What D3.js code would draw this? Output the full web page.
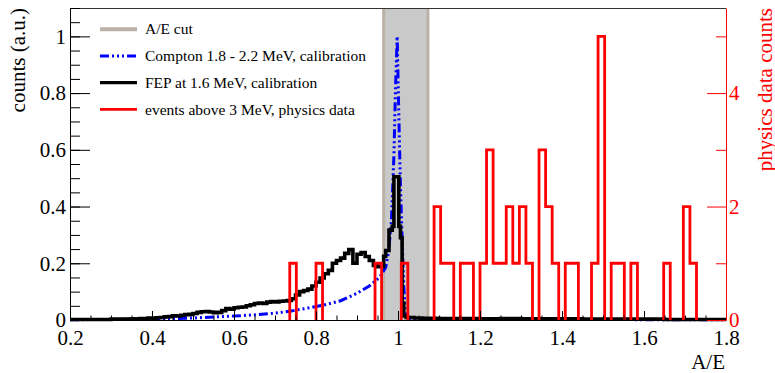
<!DOCTYPE html>
<html>
<head>
<meta charset="utf-8">
<script src="https://cdn.jsdelivr.net/npm/d3@7"></script>
<style>
body { margin: 0; background: #fff; }
svg { display: block; }
svg text { font-family: "Liberation Serif", "Times New Roman", serif !important; }
</style>
</head>
<body>
<svg id="chart" width="775" height="373"></svg>
<script>
// A/E cut window
var cutRange = [0.965, 1.073];

// physics data histogram: bins of 0.016, first listed bin index 46 (A/E = 0.736)
var physBinWidth = 0.016;
var physFirstBin = 46;
var physCounts = [1,0,0,0,1,0,0,0,0,0,0,0,0,1,0,0,0,1,0,0,0,0,
                  2,1,1,0,1,1,0,1,3,1,1,2,1,2,1,0,3,2,1,0,1,1,0,0,
                  1,5,0,1,1,0,1,0,0,0,0,1,0,0,2,1];

// FEP at 1.6 MeV: bin left edges and contents (last edge closes the histogram)
var fepEdges = [0.20,0.25,0.30,0.35,0.36,0.37,0.38,0.39,0.40,0.41,0.42,0.43,0.44,0.45,0.46,0.47,0.48,0.49,
                0.50,0.51,0.52,0.53,0.54,0.55,0.56,0.57,0.58,0.59,0.60,0.61,0.62,0.63,0.64,0.65,0.66,0.67,
                0.68,0.69,0.70,0.71,0.72,0.73,0.74,0.75,0.76,0.77,0.78,0.79,0.80,0.81,0.82,0.83,0.84,0.85,
                0.86,0.87,0.88,0.89,0.90,0.91,0.92,0.93,0.94,0.95,0.965,0.970,0.978,0.986,0.990,1.002,1.006,
                1.010,1.014,1.02,1.04,1.06,1.08,1.10,1.15,1.20,1.25,1.30,1.35,1.40,1.45,1.50,1.55,1.60,1.65,
                1.70,1.75,1.80];
var fepValues = [0.002,0.002,0.003,0.004,0.003,0.005,0.005,0.007,0.006,0.008,0.009,0.011,0.012,0.015,0.014,0.017,0.019,0.020,
                 0.023,0.027,0.029,0.030,0.028,0.026,0.027,0.033,0.040,0.038,0.043,0.045,0.046,0.050,0.054,0.058,0.060,0.058,
                 0.063,0.065,0.064,0.066,0.067,0.069,0.075,0.088,0.100,0.104,0.109,0.120,0.133,0.148,0.163,0.175,0.200,0.210,
                 0.218,0.235,0.248,0.200,0.232,0.238,0.224,0.210,0.192,0.188,0.225,0.245,0.317,0.330,0.505,0.330,0.290,
                 0.060,0.014,0.009,0.007,0.006,0.006,0.005,0.005,0.004,0.005,0.004,0.004,0.004,0.003,0.003,0.003,0.003,0.002,
                 0.002,0.002];

// Compton continuum 1.8 - 2.2 MeV
var comptonX = [0.20,0.30,0.40,0.45,0.50,0.54,0.60,0.66,0.70,0.74,0.78,0.82,0.86,0.90,0.93,0.955,0.970,0.977,
                0.984,0.990,0.994,0.998,1.002,1.006,1.010,1.014,1.018,1.030,1.100,1.800];
var comptonY = [0.001,0.002,0.003,0.005,0.007,0.010,0.014,0.019,0.024,0.032,0.042,0.053,0.068,0.094,0.120,0.150,0.185,0.240,
                0.350,0.580,0.820,1.000,0.720,0.470,0.290,0.120,0.025,0.004,0.002,0.001];

var legendLabels = ["A/E cut", "Compton 1.8 - 2.2 MeV, calibration",
                    "FEP at 1.6 MeV, calibration", "events above 3 MeV, physics data"];

var xTicks = [0.2,0.4,0.6,0.8,1,1.2,1.4,1.6,1.8];
var yLeftTicks = [0,0.2,0.4,0.6,0.8,1];
var yRightTicks = [0,2,4];

var margin = {left: 70, right: 726, top: 8, bottom: 320};
var cutFill = "#c9c9c9", cutEdge = "#bbb2a7";
var blueDash = "9,3,2,3,2,3,2,3";

var svg = d3.select("#chart");

var x = d3.scaleLinear().domain([0.2, 1.8]).range([margin.left, margin.right]);
var yL = d3.scaleLinear().domain([0, 1.1]).range([margin.bottom, margin.top]);
var yR = d3.scaleLinear().domain([0, 5.5]).range([margin.bottom, margin.top]);

// cut band
svg.append("rect")
  .attr("x", x(cutRange[0]))
  .attr("y", margin.top)
  .attr("width", x(cutRange[1]) - x(cutRange[0]))
  .attr("height", margin.bottom - margin.top)
  .attr("fill", cutFill);
svg.selectAll(".cutedge")
  .data(cutRange)
  .enter()
  .append("line")
  .attr("class", "cutedge")
  .attr("x1", function(d){ return x(d); })
  .attr("x2", function(d){ return x(d); })
  .attr("y1", margin.top)
  .attr("y2", margin.bottom)
  .attr("stroke", cutEdge)
  .attr("stroke-width", 3);

// compton curve
var comptonPts = comptonX.map(function(d, i){ return [d, comptonY[i]]; });
svg.append("path")
  .attr("d", d3.line().x(function(d){ return x(d[0]); }).y(function(d){ return yL(d[1]); })(comptonPts))
  .attr("fill", "none")
  .attr("stroke", "#0000ff")
  .attr("stroke-width", 3)
  .attr("stroke-dasharray", blueDash);

// FEP histogram
var fepPts = fepEdges.map(function(d, i){
  return [d, i < fepValues.length ? fepValues[i] : fepValues[fepValues.length - 1]];
});
svg.append("path")
  .attr("d", d3.line().curve(d3.curveStepAfter)
    .x(function(d){ return x(d[0]); }).y(function(d){ return yL(d[1]); })(fepPts))
  .attr("fill", "none")
  .attr("stroke", "#000")
  .attr("stroke-width", 3.6)
  .attr("stroke-linejoin", "miter");

// physics histogram, drawn as runs of non-empty bins
var runs = [], cur = null;
physCounts.forEach(function(c, i){
  var lo = (physFirstBin + i) * physBinWidth;
  if (c > 0) {
    if (!cur) { cur = [[lo, 0]]; runs.push(cur); }
    cur.push([lo, c]);
  } else if (cur) {
    cur.push([lo, 0]);
    cur = null;
  }
});
if (cur) cur.push([(physFirstBin + physCounts.length) * physBinWidth, 0]);

var physLine = d3.line().curve(d3.curveStepAfter)
  .x(function(d){ return x(d[0]); })
  .y(function(d){ return yR(d[1]); });
svg.selectAll(".phys")
  .data(runs)
  .enter()
  .append("path")
  .attr("class", "phys")
  .attr("d", physLine)
  .attr("fill", "none")
  .attr("stroke", "#ff0000")
  .attr("stroke-width", 2.8)
  .attr("stroke-linejoin", "miter");

// top frame
svg.append("line")
  .attr("x1", margin.left).attr("x2", margin.right)
  .attr("y1", margin.top + 0.5).attr("y2", margin.top + 0.5)
  .attr("stroke", "#333");

var fmt = d3.format("~g");

function styleAxis(g, color) {
  g.attr("font-size", 21);
  g.selectAll("text").attr("fill", color);
  g.selectAll("line").attr("stroke", color);
  g.select(".domain").attr("stroke", color);
}

// x axis
var xMinor = d3.range(0, 33).map(function(i){ return +(0.2 + i * 0.05).toFixed(2); });
svg.append("g")
  .attr("transform", "translate(0," + margin.bottom + ")")
  .call(d3.axisBottom(x).tickValues(xMinor).tickSize(-4.5).tickFormat(""))
  .call(function(g){ g.select(".domain").remove(); });
svg.append("g")
  .attr("transform", "translate(0," + margin.bottom + ")")
  .call(d3.axisBottom(x).tickValues(xTicks).tickSize(-9).tickSizeOuter(0).tickPadding(10.5).tickFormat(fmt))
  .call(styleAxis, "#000");

// left axis
var yMinor = d3.range(0, 23).map(function(i){ return +(i * 0.05).toFixed(2); });
svg.append("g")
  .attr("transform", "translate(" + margin.left + ",0)")
  .call(d3.axisLeft(yL).tickValues(yMinor).tickSize(-10).tickFormat(""))
  .call(function(g){ g.select(".domain").remove(); });
svg.append("g")
  .attr("transform", "translate(" + margin.left + ",0)")
  .call(d3.axisLeft(yL).tickValues(yLeftTicks).tickSize(-20).tickSizeOuter(0).tickPadding(4).tickFormat(fmt))
  .call(styleAxis, "#000");

// right axis (red)
svg.append("g")
  .attr("transform", "translate(" + margin.right + ",0)")
  .call(d3.axisRight(yR).tickValues([1,3,5]).tickSize(-10).tickFormat(""))
  .call(function(g){ g.select(".domain").remove(); g.selectAll("line").attr("stroke", "#ff0000"); });
svg.append("g")
  .attr("transform", "translate(" + margin.right + ",0)")
  .call(d3.axisRight(yR).tickValues(yRightTicks).tickSize(-19).tickSizeOuter(0).tickPadding(3).tickFormat(fmt))
  .call(styleAxis, "#ff0000");

// axis titles
svg.append("text")
  .attr("transform", "translate(25," + margin.top + ") rotate(-90)")
  .attr("text-anchor", "end")
  .attr("font-size", 21)
  .text("counts (a.u.)");
svg.append("text")
  .attr("transform", "translate(772," + margin.top + ") rotate(-90)")
  .attr("text-anchor", "end")
  .attr("font-size", 21)
  .attr("fill", "#ff0000")
  .text("physics data counts");
svg.append("text")
  .attr("x", 725).attr("y", 369)
  .attr("text-anchor", "end")
  .attr("font-size", 21)
  .text("A/E");

// legend
var legendStyle = [
  {stroke: cutEdge, width: 4, dash: null},
  {stroke: "#0000ff", width: 3, dash: blueDash},
  {stroke: "#000", width: 3.3, dash: null},
  {stroke: "#ff0000", width: 2.8, dash: null}
];
var leg = svg.selectAll(".leg")
  .data(legendLabels)
  .enter()
  .append("g")
  .attr("class", "leg")
  .attr("transform", function(d, i){ return "translate(100," + (29.3 + i * 26.7) + ")"; });
leg.append("line")
  .attr("x1", 0).attr("x2", 37)
  .attr("stroke", function(d, i){ return legendStyle[i].stroke; })
  .attr("stroke-width", function(d, i){ return legendStyle[i].width; })
  .attr("stroke-dasharray", function(d, i){ return legendStyle[i].dash; });
leg.append("text")
  .attr("x", 45)
  .attr("dy", "0.33em")
  .attr("font-size", 15.5)
  .text(function(d){ return d; });
</script>
</body>
</html>
